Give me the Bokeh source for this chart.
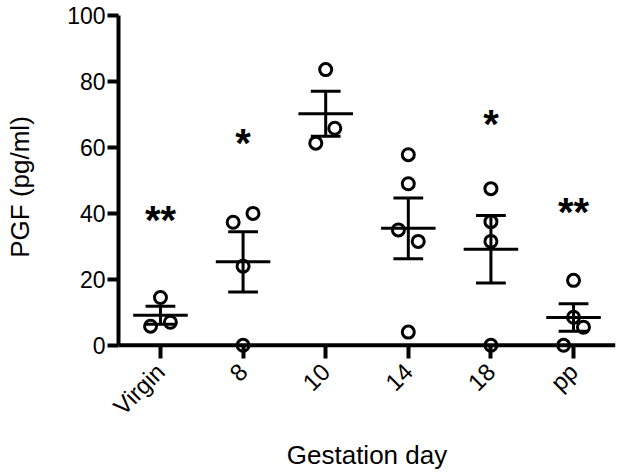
import numpy as np
from bokeh.plotting import figure
from bokeh.models import Range1d, FixedTicker, Span, ColumnDataSource
from bokeh.core.properties import value
from bokeh.embed import file_html
from bokeh.resources import INLINE

categories = ["Virgin", "8", "10", "14", "18", "pp"]
virgin_vals = [14.5, 5.8, 7.0]
day8_vals = [0.0, 24.0, 37.3, 40.0]
day10_vals = [83.6, 65.8, 61.3]
day14_vals = [57.8, 49.0, 35.0, 31.5, 4.0]
day18_vals = [47.5, 37.5, 31.5, 0.0]
pp_vals = [19.7, 8.5, 5.5, 0.0]
# horizontal scatter offsets of the points (category units)
virgin_jit = [0.0, -0.12, 0.12]
day8_jit = [0.0, 0.0, -0.12, 0.12]
day10_jit = [0.0, 0.11, -0.12]
day14_jit = [0.0, 0.0, -0.12, 0.12, 0.0]
day18_jit = [0.0, 0.0, 0.0, 0.0]
pp_jit = [0.0, 0.0, 0.12, -0.12]
star_labels = ["**", "*", "*", "**"]
star_cats = [0, 1, 4, 5]
star_y = [39.4, 63.0, 68.5, 42.0]
y_ticks = [0, 20, 40, 60, 80, 100]

groups = [virgin_vals, day8_vals, day10_vals, day14_vals, day18_vals, pp_vals]
jits = [virgin_jit, day8_jit, day10_jit, day14_jit, day18_jit, pp_jit]

FONT = "Liberation Sans"

p = figure(width=621, height=476, output_backend="svg", toolbar_location=None,
           x_range=Range1d(-0.508, 5.508), y_range=Range1d(-4, 100),
           min_border_left=118, min_border_right=6, min_border_top=15,
           min_border_bottom=118)
p.outline_line_color = None
p.xgrid.visible = False
p.ygrid.visible = False
p.background_fill_color = "white"
p.border_fill_color = "white"

# y axis
ya = p.yaxis[0]
ya.ticker = FixedTicker(ticks=y_ticks)
ya.bounds = (0, 100)
ya.axis_line_width = 4
ya.axis_line_color = "black"
ya.major_tick_line_width = 4
ya.major_tick_out = 11
ya.major_tick_in = 0
ya.minor_tick_line_color = None
ya.major_label_text_font = FONT
ya.major_label_text_font_size = "23px"
ya.major_label_text_color = "black"
ya.major_label_standoff = 2
ya.axis_label = "PGF (pg/ml)"
ya.axis_label_text_font = FONT
ya.axis_label_text_font_size = "26px"
ya.axis_label_text_font_style = "normal"
ya.axis_label_text_color = "black"
ya.axis_label_standoff = 29

# x axis
xa = p.xaxis[0]
xa.ticker = FixedTicker(ticks=list(range(len(categories))))
xa.major_label_overrides = {i: c for i, c in enumerate(categories)}
xa.axis_line_color = None
xa.major_tick_line_width = 4
xa.major_tick_in = 13
xa.major_tick_out = 0
xa.minor_tick_line_color = None
xa.major_label_orientation = np.pi / 4
xa.major_label_text_font = FONT
xa.major_label_text_font_size = "24px"
xa.major_label_text_color = "black"
xa.major_label_standoff = 9
xa.axis_label = "Gestation day"
xa.axis_label_text_font = FONT
xa.axis_label_text_font_size = "26px"
xa.axis_label_text_font_style = "normal"
xa.axis_label_text_color = "black"
xa.axis_label_standoff = 7

p.add_layout(Span(location=0, dimension="width", line_color="black", line_width=4))

# points
px, py = [], []
for i, (vals, jit) in enumerate(zip(groups, jits)):
    for v, j in zip(vals, jit):
        px.append(i + j)
        py.append(v)
p.scatter(px, py, marker="circle", size=12, fill_color=None,
          line_color="black", line_width=3)

# mean and SEM
means = [float(np.mean(g)) for g in groups]
sems = [float(np.std(g, ddof=1) / np.sqrt(len(g))) for g in groups]
xs = np.arange(len(categories))
mw, cw = 0.33, 0.18
p.segment(x0=xs - mw, x1=xs + mw, y0=means, y1=means, line_color="black", line_width=3)
lo = [m - s for m, s in zip(means, sems)]
hi = [m + s for m, s in zip(means, sems)]
p.segment(x0=xs, x1=xs, y0=lo, y1=hi, line_color="black", line_width=3)
p.segment(x0=xs - cw, x1=xs + cw, y0=hi, y1=hi, line_color="black", line_width=3)
p.segment(x0=xs - cw, x1=xs + cw, y0=lo, y1=lo, line_color="black", line_width=3)

# significance stars
src = ColumnDataSource(dict(x=star_cats, y=star_y, t=star_labels))
p.text(x="x", y="y", text="t", source=src, text_font=value(FONT),
       text_font_size="40px", text_font_style="bold", text_align="center",
       text_baseline="middle", text_color="black", y_offset=5)

open("out.html", "w").write(file_html(p, INLINE))
